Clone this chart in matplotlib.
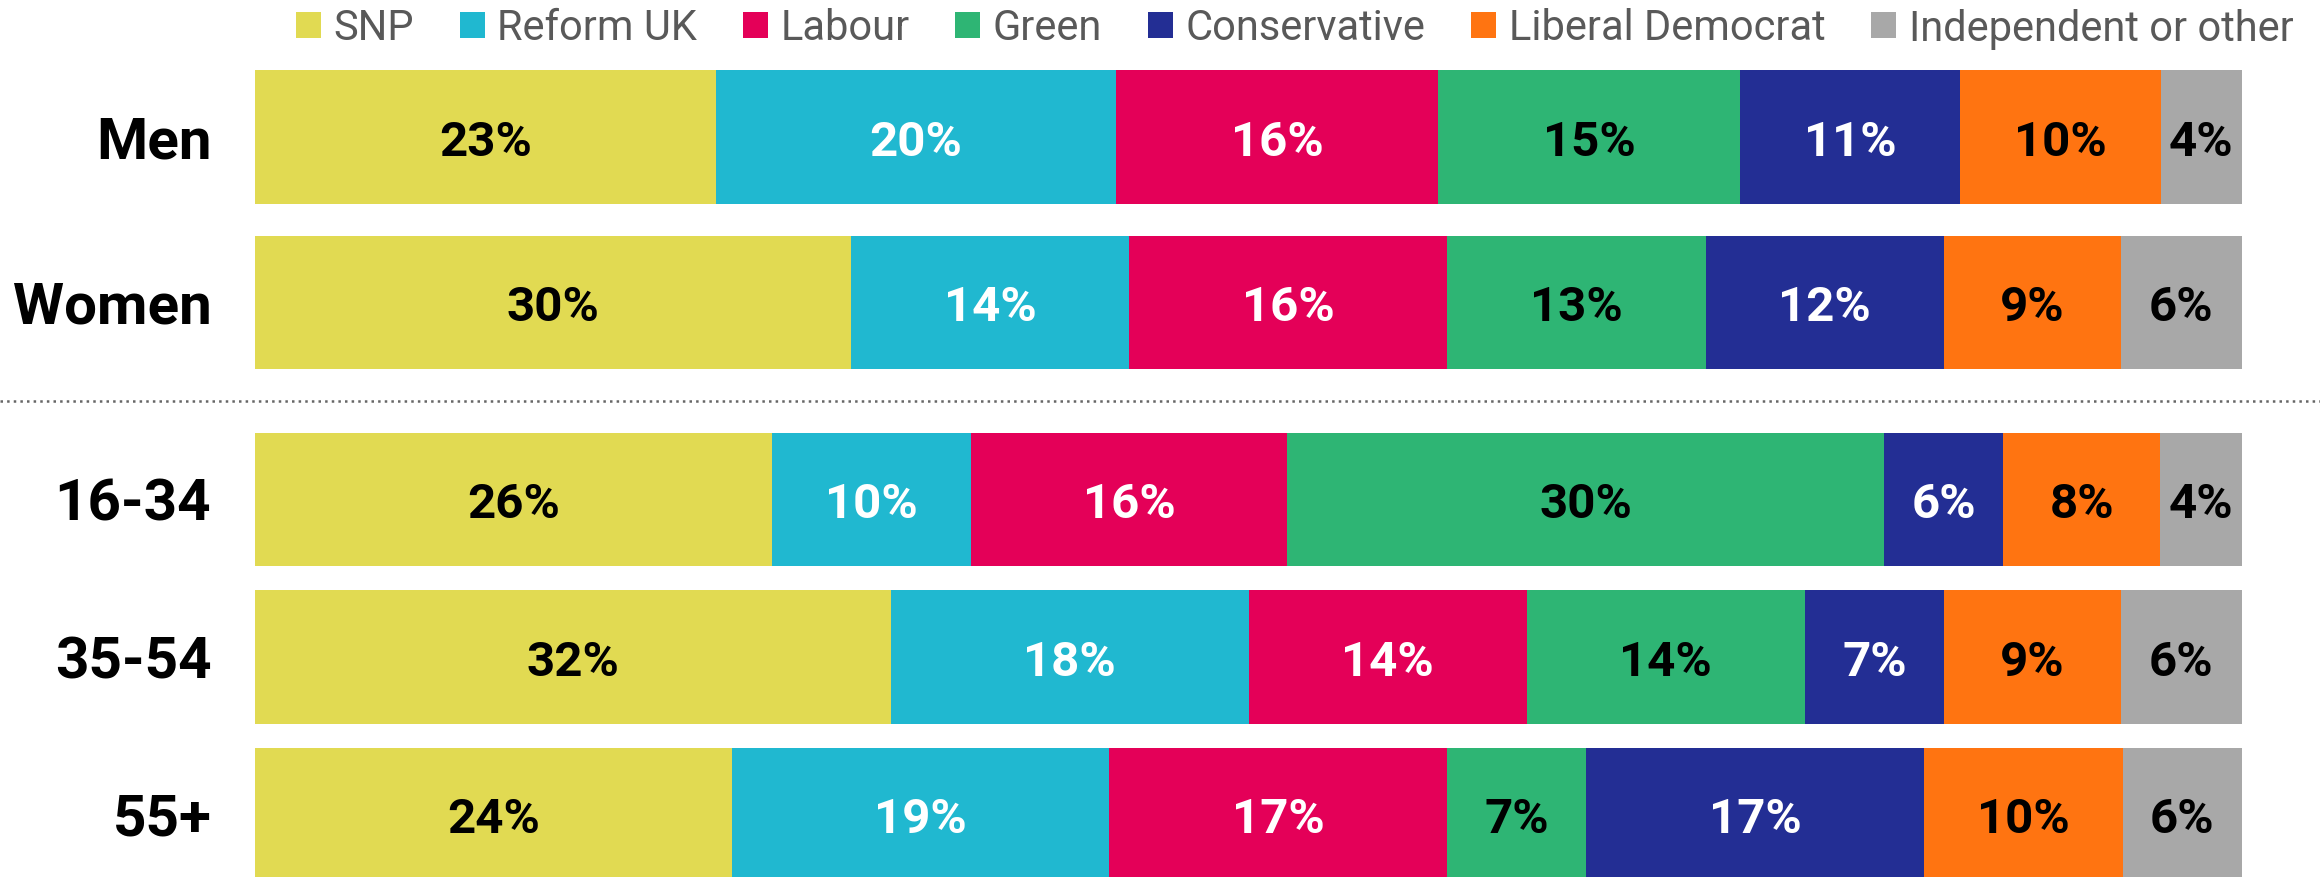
import matplotlib
matplotlib.use("Agg")
import matplotlib.pyplot as plt
from matplotlib.patches import Patch
from matplotlib.transforms import blended_transform_factory
import numpy as np

plt.rcParams['font.family'] = ['Roboto', 'DejaVu Sans']

# voting intention by group (%)
groups = ['Men', 'Women', '16-34', '35-54', '55+']
parties = ['SNP', 'Reform UK', 'Labour', 'Green', 'Conservative',
           'Liberal Democrat', 'Independent or other']

snp = [23.2, 30.0, 26.0, 32.0, 24.0]
reform = [20.2, 14.0, 10.0, 18.0, 19.0]
labour = [16.2, 16.0, 15.9, 14.0, 17.0]
green = [15.2, 13.0, 30.0, 14.0, 7.0]
conservative = [11.1, 12.0, 6.0, 7.0, 17.0]
libdem = [10.1, 8.9, 7.9, 8.9, 10.0]
other = [4.1, 6.1, 4.1, 6.1, 6.0]

colors = ['#E1DA52', '#20B8D0', '#E40058', '#2EB574', '#232E94', '#FF7411', '#A8A8A8']
text_colors = ['black', 'white', 'white', 'black', 'white', 'black', 'black']

# layout: row centres (the gap splits gender from age groups)
row_pos = [0, 1.04, 2.28, 3.27, 4.26]
bar_h = 0.84
txt_shift = 0.03  # nudge text down so caps sit on the bar centre

data = np.array([snp, reform, labour, green, conservative, libdem, other])
shares = data / data.sum(axis=0) * 100

fig = plt.figure(figsize=(23.2, 8.78), dpi=100)
ax = fig.add_axes([255 / 2320, 0, 1987 / 2320, 1])

left = np.zeros(len(groups))
for i, party in enumerate(parties):
    ax.barh(row_pos, shares[i], left=left, height=bar_h, color=colors[i],
            linewidth=0, label=party)
    for j in range(len(groups)):
        ax.text(left[j] + shares[i][j] / 2, row_pos[j] + txt_shift,
                f"{data[i][j]:.0f}%", ha='center', va='center', fontsize=35.5,
                fontweight='bold', color=text_colors[i])
    left += shares[i]

for j, g in enumerate(groups):
    ax.text(-2.2, row_pos[j] + txt_shift, g, ha='right', va='center',
            fontsize=42, fontweight='bold', color='black')

# dotted divider between gender and age rows
mid = (row_pos[1] + row_pos[2]) / 2
trans = blended_transform_factory(fig.transFigure, ax.transData)
ax.plot([0, 1], [mid, mid], transform=trans, ls=':', color='#666666',
        lw=1.8, clip_on=False)

ax.set_xlim(0, 100)
ax.set_ylim((878 - 138) / 159, -138 / 159)
ax.axis('off')

handles = [Patch(facecolor=c, edgecolor='none', label=p) for p, c in zip(parties, colors)]
fig.legend(handles=handles, loc='center', bbox_to_anchor=(0.558, 1 - 29 / 878),
           ncol=7, frameon=False, fontsize=30, handlelength=0.6,
           handleheight=0.6, handletextpad=0.3, columnspacing=1.1,
           labelcolor='#595959', borderpad=0)

plt.savefig('out.png', dpi=100)
